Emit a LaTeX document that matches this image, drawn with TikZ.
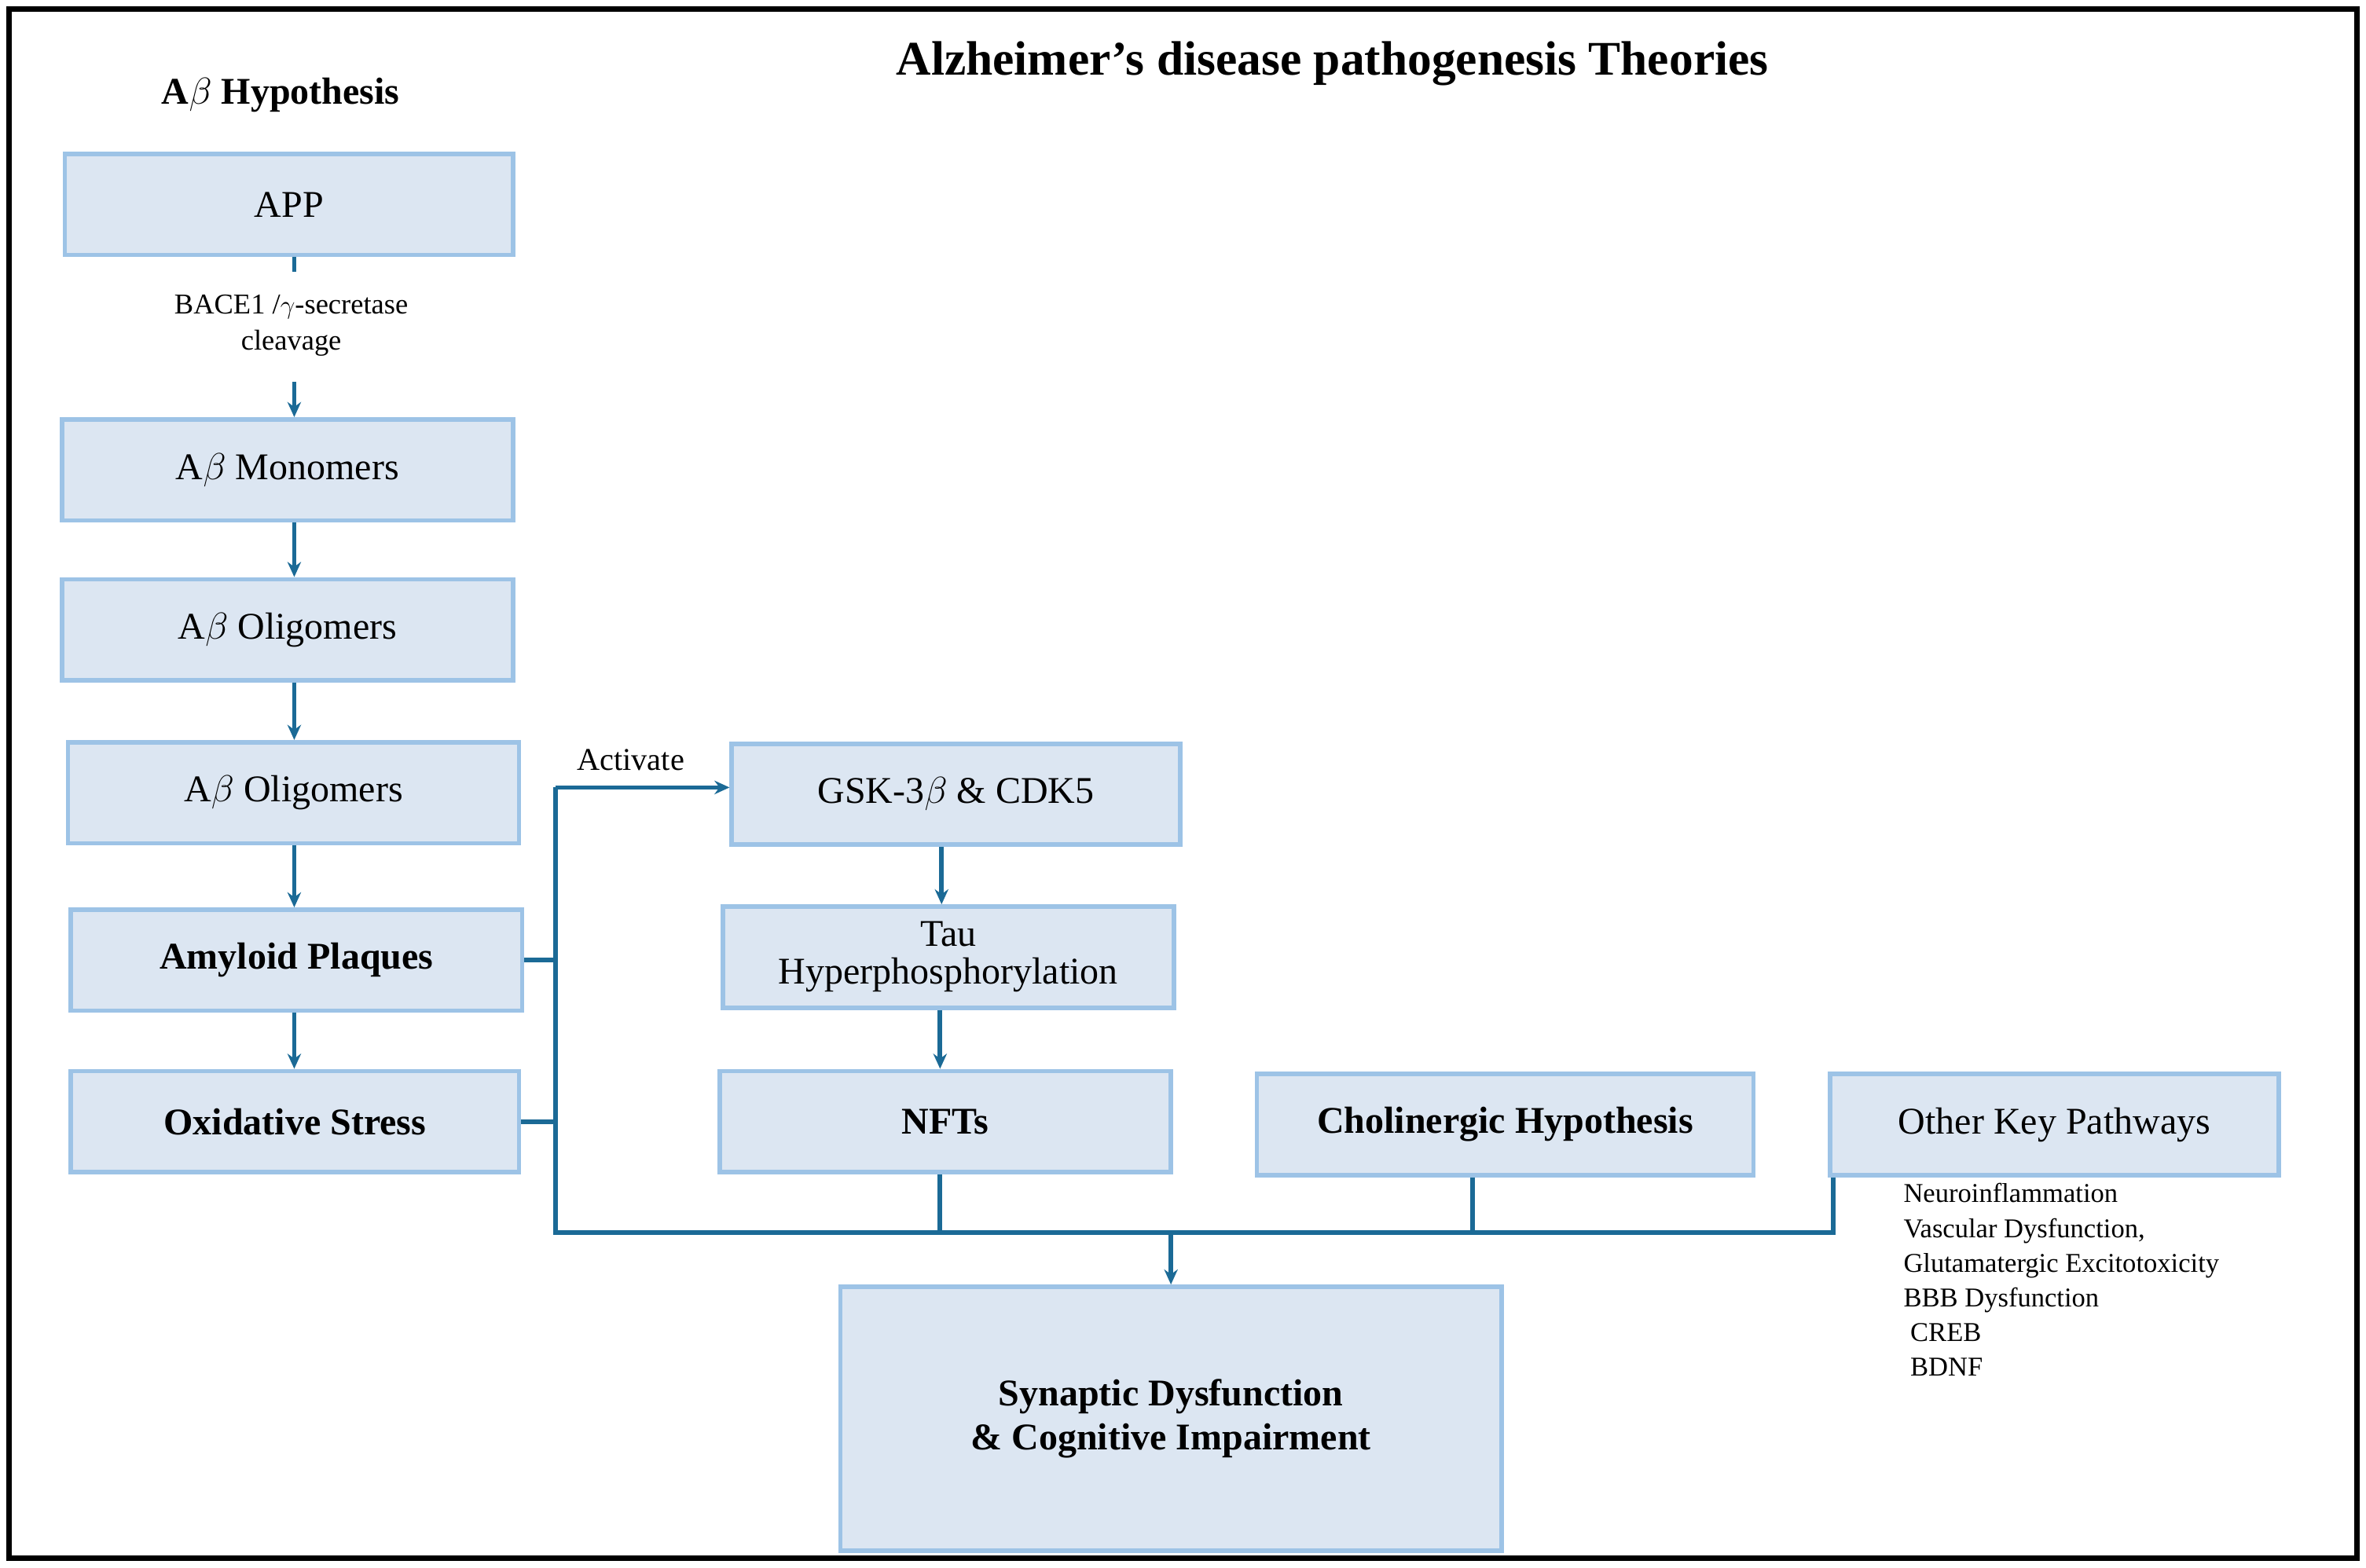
\documentclass[tikz,border=0pt]{standalone}
\usepackage{fontspec}
\setmainfont{Liberation Serif}
\usetikzlibrary{arrows.meta}
\definecolor{bfill}{HTML}{DCE6F2}
\definecolor{bdraw}{HTML}{9DC3E6}
\definecolor{arr}{HTML}{1B6A96}
\begin{document}
\begin{tikzpicture}[x=1pt,y=-1pt,
 box/.style={draw=bdraw,fill=bfill,line width=3pt,inner sep=0pt,align=center,font=\fontsize{25}{29}\selectfont},
 ln/.style={draw=arr,line width=3pt},
 ar/.style={ln,-{Stealth[length=10pt,width=9pt]}}]
\useasboundingbox (0,0) rectangle (1568,1039);
\draw[line width=3.5pt] (6,6) rectangle (1562,1033);
\node[font=\fontsize{32}{36}\selectfont\bfseries] (title) at (883,42) {Alzheimer's disease pathogenesis Theories};
\node[font=\fontsize{25}{29}\selectfont\bfseries] (hyp) at (186,63) {A$\beta$ Hypothesis};
\newcommand{\bx}[6]{\node[box,minimum width=#4-#2,minimum height=#5-#3] (#1) at ({(#2+#4)/2},{(#3+#5)/2}) {#6};}
\bx{app}{43}{102}{340}{169}{APP}
\bx{mono}{41}{278}{340}{345}{A$\beta$ Monomers}
\bx{olig1}{41}{384}{340}{451}{A$\beta$ Oligomers}
\bx{olig2}{45}{492}{344}{559}{A$\beta$ Oligomers}
\bx{plaq}{47}{603}{346}{670}{\bfseries Amyloid Plaques}
\bx{ox}{47}{710}{344}{777}{\bfseries Oxidative Stress}
\bx{gsk}{485}{493}{782}{560}{GSK-3$\beta$ \& CDK5}
\bx{tau}{479}{601}{778}{668}{Tau\\[-4pt]Hyperphosphorylation}
\bx{nft}{477}{710}{776}{777}{\bfseries NFTs}
\bx{chol}{833}{712}{1162}{779}{\bfseries Cholinergic Hypothesis}
\bx{other}{1213}{712}{1510}{779}{Other Key Pathways}
\bx{syn}{557}{853}{995}{1028}{\bfseries Synaptic Dysfunction\\\bfseries \& Cognitive Impairment}
\node[font=\fontsize{19}{24}\selectfont,align=center] (bace) at (193,216) {BACE1 /$\gamma$-secretase\\cleavage};
\coordinate (c1) at (195,180);
\draw[ln] (app.south -| c1) -- (c1);
\coordinate (c2) at (195,253);
\draw[ar] (c2) -- (mono.north -| c2);
\draw[ar] (mono.south -| c2) -- (olig1.north -| c2);
\draw[ar] (olig1.south -| c2) -- (olig2.north -| c2);
\draw[ar] (olig2.south -| c2) -- (plaq.north -| c2);
\draw[ar] (plaq.south -| c2) -- (ox.north -| c2);
\coordinate (j1) at (368,522);
\coordinate (j2) at (368,817);
\coordinate (j3) at (1215,817);
\draw[ln] (plaq.east) -- (plaq.east -| j1);
\draw[ln] (ox.east) -- (ox.east -| j1);
\draw[ln] (j1) -- (j2) -- (j3) -- (j3 |- other.south);
\draw[ar] (j1) -- (gsk.west |- j1);
\node[font=\fontsize{21}{24}\selectfont] (act) at (418,504) {Activate};
\draw[ar] (gsk.south -| 624,0) -- (tau.north -| 624,0);
\draw[ar] (tau.south -| 623,0) -- (nft.north -| 623,0);
\draw[ln] (nft.south -| 623,0) -- (623,817);
\draw[ln] (chol.south -| 976,0) -- (976,817);
\draw[ar] (776,817) -- (syn.north -| 776,0);
\node[font=\fontsize{18}{23}\selectfont,align=left,anchor=north west] (list) at (1258,781) {Neuroinflammation\\Vascular Dysfunction,\\Glutamatergic Excitotoxicity\\BBB Dysfunction\\\ CREB\\\ BDNF};
\end{tikzpicture}
\end{document}
